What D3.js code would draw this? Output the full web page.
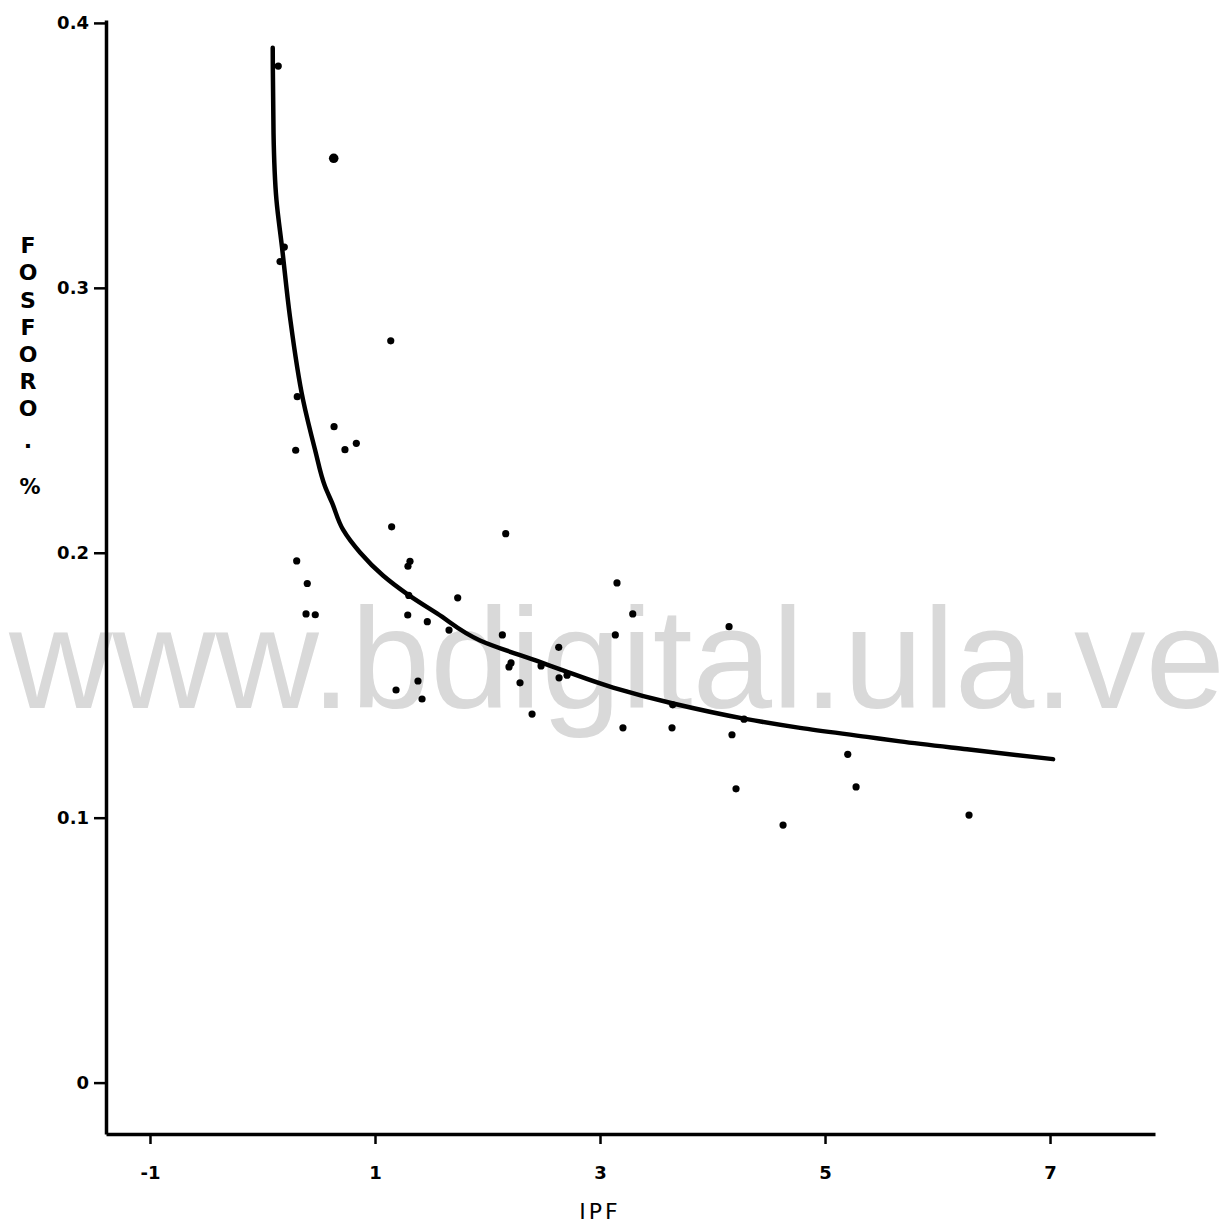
<!DOCTYPE html>
<html>
<head>
<meta charset="utf-8">
<script src="https://cdn.jsdelivr.net/npm/d3@7"></script>
<style>
  body { margin: 0; background: #fff; }
  svg { display: block; }
</style>
</head>
<body>
<svg id="chart"></svg>
<script>
// observed points (IPF, fosforo %)
const ipf = [0.140, 0.633, 0.194, 0.156, 1.140, 0.309, 0.636, 0.834, 0.733, 0.295,
  1.148, 2.162, 1.293, 1.311, 0.304, 0.398, 3.151, 1.300, 1.735, 0.387,
  0.469, 1.291, 1.465, 3.291, 1.658, 4.147, 2.132, 3.136, 2.633, 2.209,
  2.191, 2.476, 2.636, 2.707, 1.382, 2.289, 1.187, 1.418, 2.396, 3.646,
  3.204, 3.640, 4.280, 4.173, 5.202, 4.209, 5.276, 4.627, 6.280];
const fosforo = [0.3837, 0.3489, 0.3154, 0.3099, 0.2800, 0.2589, 0.2476, 0.2413, 0.2389, 0.2387,
  0.2098, 0.2072, 0.1949, 0.1968, 0.1969, 0.1884, 0.1886, 0.1839, 0.1830, 0.1769,
  0.1766, 0.1765, 0.1740, 0.1769, 0.1708, 0.1721, 0.1690, 0.1690, 0.1643, 0.1584,
  0.1569, 0.1573, 0.1528, 0.1538, 0.1516, 0.1509, 0.1482, 0.1448, 0.1391, 0.1426,
  0.1339, 0.1339, 0.1372, 0.1313, 0.1239, 0.1109, 0.1116, 0.0972, 0.1010];
// the one heavier dot
const bigDot = 1;

// fitted curve
const curveX = [0.091, 0.098, 0.124, 0.173, 0.244, 0.360, 0.467, 0.556, 0.618, 0.716,
  0.867, 1.071, 1.293, 1.551, 1.933, 2.476, 2.671, 3.116, 3.649, 4.280,
  4.778, 5.373, 5.667, 6.262, 7.027];
const curveY = [0.3906, 0.3585, 0.3332, 0.3155, 0.2891, 0.2578, 0.2389, 0.2250, 0.2189, 0.2087,
  0.2001, 0.1914, 0.1842, 0.1771, 0.1669, 0.1586, 0.1556, 0.1491, 0.1431, 0.1374,
  0.1339, 0.1305, 0.1288, 0.1258, 0.1221];

const xTicks = [-1, 1, 3, 5, 7];
const yTicks = [0, 0.1, 0.2, 0.3, 0.4];

const w = 1224, h = 1226;
const svg = d3.select("#chart").attr("width", w).attr("height", h);

const x = d3.scaleLinear().domain([-1.391, 7.933]).range([106, 1155]);
const y = d3.scaleLinear().domain([-0.0194, 0.4011]).range([1134, 20]);

// watermark sits under everything
svg.append("text")
  .attr("x", 9)
  .attr("y", 708)
  .attr("font-family", "Liberation Sans, Arial, sans-serif")
  .attr("font-size", 143)
  .attr("fill", "#d9d9d9")
  .text("www.bdigital.ula.ve");

const font = "DejaVu Sans, sans-serif";

const xAxis = d3.axisBottom(x).tickValues(xTicks).tickSize(10).tickSizeOuter(0)
  .tickPadding(22).tickFormat(d => String(d));
const yAxis = d3.axisLeft(y).tickValues(yTicks).tickSize(12).tickSizeOuter(0)
  .tickPadding(5).tickFormat(d => String(d));

const gx = svg.append("g").attr("transform", "translate(0,1134)").call(xAxis);
const gy = svg.append("g").attr("transform", "translate(106,0)").call(yAxis);

[gx, gy].forEach(g => {
  g.select(".domain").attr("stroke", "#000").attr("stroke-width", 3.5);
  g.selectAll(".tick line").attr("stroke", "#000").attr("stroke-width", 2.5);
  g.selectAll(".tick text")
    .attr("fill", "#000")
    .attr("font-family", font)
    .attr("font-weight", "bold")
    .attr("font-size", 18);
});

// axis titles
svg.append("text")
  .attr("x", 600).attr("y", 1219)
  .attr("text-anchor", "middle")
  .attr("font-family", font)
  .attr("font-size", 22)
  .attr("letter-spacing", 3)
  .text("IPF");

const yLabel = ["F", "O", "S", "F", "O", "R", "O", "."];
const yLabelPos = [245, 272, 300, 327, 354, 381, 408, 440];
svg.append("g").selectAll("text")
  .data(yLabel)
  .join("text")
  .attr("x", 28)
  .attr("y", (d, i) => yLabelPos[i] + 8)
  .attr("text-anchor", "middle")
  .attr("font-family", font)
  .attr("font-weight", "bold")
  .attr("font-size", 22)
  .text(d => d);
svg.append("text")
  .attr("x", 30).attr("y", 494)
  .attr("text-anchor", "middle")
  .attr("font-family", font)
  .attr("font-weight", "bold")
  .attr("font-size", 21)
  .text("%");

// fitted curve
const line = d3.line()
  .x((d, i) => x(curveX[i]))
  .y((d, i) => y(curveY[i]))
  .curve(d3.curveMonotoneY);
svg.append("path")
  .attr("d", line(curveX))
  .attr("fill", "none")
  .attr("stroke", "#000")
  .attr("stroke-width", 4.5)
  .attr("stroke-linecap", "round");

// observations
svg.append("g")
  .attr("fill", "#000")
  .selectAll("circle")
  .data(ipf.map((v, i) => i))
  .join("circle")
  .attr("cx", i => x(ipf[i]))
  .attr("cy", i => y(fosforo[i]))
  .attr("r", i => i === bigDot ? 4.8 : 3.6);
</script>
</body>
</html>
